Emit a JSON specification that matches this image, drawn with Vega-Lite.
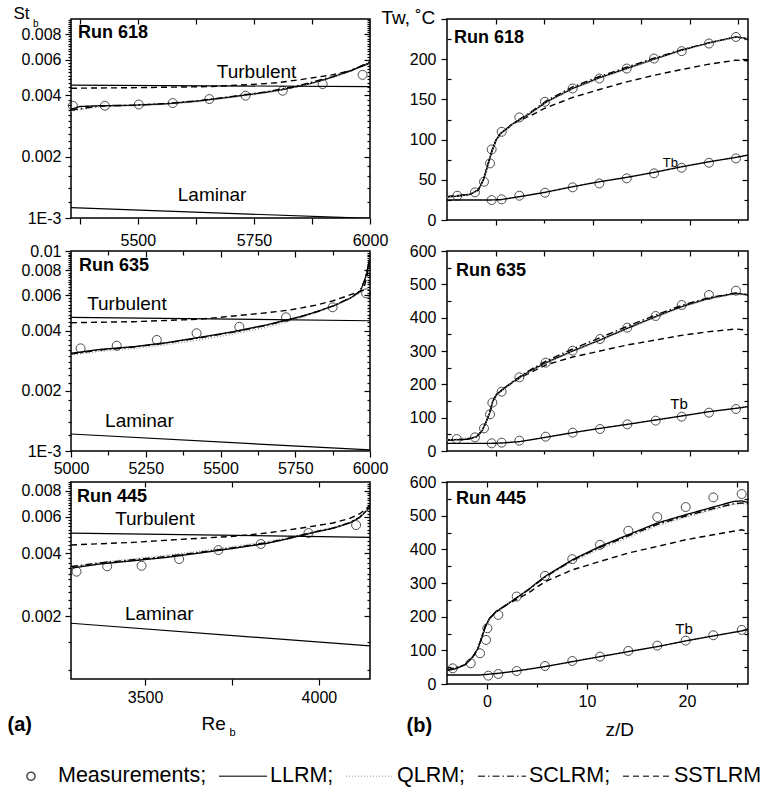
{
"$schema": "https://vega.github.io/schema/vega-lite/v6.json",
"background": "white",
"padding": {"left": 6, "top": 3, "right": 0, "bottom": 0},
"autosize": {"type": "pad"},
"columns": 2,
"spacing": {"row": 31, "column": 77},
"bounds": "flush",
"config": {
 "font": "Liberation Sans",
 "view": {"stroke": "black", "strokeWidth": 1.5},
 "axis": {"domain": false, "grid": false, "labelFont": "Liberation Sans", "labelFontSize": 16, "labelColor": "black", "tickColor": "black", "tickWidth": 1.2, "titleFont": "Liberation Sans", "titleFontSize": 19, "titleFontWeight": "normal", "titleColor": "black", "labelFlush": false, "labelOverlap": false, "labelBound": false, "labelLimit": 0},
 "legend": {"orient": "none", "legendX": -65, "legendY": 732, "direction": "horizontal", "columns": 5, "symbolSize": 2304, "symbolStrokeWidth": 1.5, "symbolStrokeColor": "black", "symbolFillColor": "transparent", "labelFont": "Liberation Sans", "labelFontSize": 21.5, "labelColor": "black", "labelOffset": 2, "columnPadding": 9, "labelLimit": 0, "padding": 0},
 "text": {"font": "Liberation Sans", "color": "black"}
},
"datasets": {
"L1": [
{"kind":"curve","model":"LLRM","Re":5356,"St":0.00342},{"kind":"curve","model":"LLRM","Re":5375,"St":0.00353},{"kind":"curve","model":"LLRM","Re":5418,"St":0.00356},{"kind":"curve","model":"LLRM","Re":5489,"St":0.00358},{"kind":"curve","model":"LLRM","Re":5561,"St":0.00364},{"kind":"curve","model":"LLRM","Re":5632,"St":0.00376},{"kind":"curve","model":"LLRM","Re":5704,"St":0.00394},{"kind":"curve","model":"LLRM","Re":5775,"St":0.00414},{"kind":"curve","model":"LLRM","Re":5818,"St":0.0043},{"kind":"curve","model":"LLRM","Re":5846,"St":0.00444},{"kind":"curve","model":"LLRM","Re":5882,"St":0.00464},{"kind":"curve","model":"LLRM","Re":5918,"St":0.00491},{"kind":"curve","model":"LLRM","Re":5954,"St":0.00524},{"kind":"curve","model":"LLRM","Re":6000,"St":0.00577},
{"kind":"curve","model":"QLRM","Re":5356,"St":0.00335},{"kind":"curve","model":"QLRM","Re":5418,"St":0.00352},{"kind":"curve","model":"QLRM","Re":5489,"St":0.00355},{"kind":"curve","model":"QLRM","Re":5561,"St":0.00361},{"kind":"curve","model":"QLRM","Re":5632,"St":0.00373},{"kind":"curve","model":"QLRM","Re":5704,"St":0.00391},{"kind":"curve","model":"QLRM","Re":5775,"St":0.00411},{"kind":"curve","model":"QLRM","Re":5846,"St":0.00442},{"kind":"curve","model":"QLRM","Re":5918,"St":0.0049},{"kind":"curve","model":"QLRM","Re":5954,"St":0.00522},{"kind":"curve","model":"QLRM","Re":6000,"St":0.00575},
{"kind":"curve","model":"SCLRM","Re":5356,"St":0.00339},{"kind":"curve","model":"SCLRM","Re":5418,"St":0.00355},{"kind":"curve","model":"SCLRM","Re":5489,"St":0.00358},{"kind":"curve","model":"SCLRM","Re":5561,"St":0.00365},{"kind":"curve","model":"SCLRM","Re":5632,"St":0.00377},{"kind":"curve","model":"SCLRM","Re":5704,"St":0.00396},{"kind":"curve","model":"SCLRM","Re":5775,"St":0.00416},{"kind":"curve","model":"SCLRM","Re":5846,"St":0.00447},{"kind":"curve","model":"SCLRM","Re":5918,"St":0.00494},{"kind":"curve","model":"SCLRM","Re":5954,"St":0.00527},{"kind":"curve","model":"SCLRM","Re":6000,"St":0.0058},
{"kind":"curve","model":"SSTLRM","Re":5356,"St":0.00434},{"kind":"curve","model":"SSTLRM","Re":5500,"St":0.00437},{"kind":"curve","model":"SSTLRM","Re":5650,"St":0.00442},{"kind":"curve","model":"SSTLRM","Re":5741,"St":0.00452},{"kind":"curve","model":"SSTLRM","Re":5800,"St":0.00462},{"kind":"curve","model":"SSTLRM","Re":5846,"St":0.00477},{"kind":"curve","model":"SSTLRM","Re":5918,"St":0.00505},{"kind":"curve","model":"SSTLRM","Re":5960,"St":0.0053},{"kind":"curve","model":"SSTLRM","Re":6000,"St":0.00585},
{"kind":"corr","curve":"Turbulent","Re":5356,"St":0.0045},{"kind":"corr","curve":"Turbulent","Re":6000,"St":0.00442},
{"kind":"corr","curve":"Laminar","Re":5356,"St":0.001125},{"kind":"corr","curve":"Laminar","Re":6000,"St":0.000995},
{"kind":"meas","model":"Measurements","Re":5360,"St":0.00356},{"kind":"meas","model":"Measurements","Re":5429,"St":0.00356},{"kind":"meas","model":"Measurements","Re":5502,"St":0.00361},{"kind":"meas","model":"Measurements","Re":5575,"St":0.00367},{"kind":"meas","model":"Measurements","Re":5654,"St":0.00384},{"kind":"meas","model":"Measurements","Re":5732,"St":0.00399},{"kind":"meas","model":"Measurements","Re":5812,"St":0.00422},{"kind":"meas","model":"Measurements","Re":5898,"St":0.00455},{"kind":"meas","model":"Measurements","Re":5984,"St":0.00505},
{"kind":"run","text":"Run 618","Re":5371,"St":0.00811},
{"kind":"label","text":"Turbulent","Re":5670,"St":0.00524},
{"kind":"label","text":"Laminar","Re":5586,"St":0.0013}
],
"R1": [
{"kind":"curve","curve":"Tw","model":"LLRM","z":-5,"T":29},{"kind":"curve","curve":"Tw","model":"LLRM","z":-3.94,"T":29.5},{"kind":"curve","curve":"Tw","model":"LLRM","z":-2.63,"T":31.9},{"kind":"curve","curve":"Tw","model":"LLRM","z":-1.78,"T":37.3},{"kind":"curve","curve":"Tw","model":"LLRM","z":-1.26,"T":49.7},{"kind":"curve","curve":"Tw","model":"LLRM","z":-0.85,"T":66.2},{"kind":"curve","curve":"Tw","model":"LLRM","z":-0.4,"T":84.8},{"kind":"curve","curve":"Tw","model":"LLRM","z":0.05,"T":99.4},{"kind":"curve","curve":"Tw","model":"LLRM","z":0.53,"T":107.7},{"kind":"curve","curve":"Tw","model":"LLRM","z":1.83,"T":120},{"kind":"curve","curve":"Tw","model":"LLRM","z":3.55,"T":132.5},{"kind":"curve","curve":"Tw","model":"LLRM","z":5.27,"T":147},{"kind":"curve","curve":"Tw","model":"LLRM","z":7.94,"T":163.6},{"kind":"curve","curve":"Tw","model":"LLRM","z":10.69,"T":176.8},{"kind":"curve","curve":"Tw","model":"LLRM","z":13.51,"T":188.4},{"kind":"curve","curve":"Tw","model":"LLRM","z":16.32,"T":200},{"kind":"curve","curve":"Tw","model":"LLRM","z":19.17,"T":211.2},{"kind":"curve","curve":"Tw","model":"LLRM","z":21.98,"T":220.3},{"kind":"curve","curve":"Tw","model":"LLRM","z":24.76,"T":227.7},{"kind":"curve","curve":"Tw","model":"LLRM","z":26,"T":225.5},
{"kind":"curve","curve":"Tw","model":"SSTLRM","z":-5,"T":29},{"kind":"curve","curve":"Tw","model":"SSTLRM","z":-2.63,"T":31.9},{"kind":"curve","curve":"Tw","model":"SSTLRM","z":-1.78,"T":37.3},{"kind":"curve","curve":"Tw","model":"SSTLRM","z":-1.26,"T":49.7},{"kind":"curve","curve":"Tw","model":"SSTLRM","z":-0.85,"T":66.2},{"kind":"curve","curve":"Tw","model":"SSTLRM","z":-0.4,"T":84.8},{"kind":"curve","curve":"Tw","model":"SSTLRM","z":0.05,"T":99.4},{"kind":"curve","curve":"Tw","model":"SSTLRM","z":0.53,"T":107.7},{"kind":"curve","curve":"Tw","model":"SSTLRM","z":1.83,"T":119.5},{"kind":"curve","curve":"Tw","model":"SSTLRM","z":2.45,"T":124},{"kind":"curve","curve":"Tw","model":"SSTLRM","z":3.55,"T":129.5},{"kind":"curve","curve":"Tw","model":"SSTLRM","z":5.09,"T":139},{"kind":"curve","curve":"Tw","model":"SSTLRM","z":7.94,"T":152.4},{"kind":"curve","curve":"Tw","model":"SSTLRM","z":10.69,"T":162.3},{"kind":"curve","curve":"Tw","model":"SSTLRM","z":13.51,"T":171.8},{"kind":"curve","curve":"Tw","model":"SSTLRM","z":16.32,"T":180},{"kind":"curve","curve":"Tw","model":"SSTLRM","z":19.17,"T":187.2},{"kind":"curve","curve":"Tw","model":"SSTLRM","z":21.98,"T":193.8},{"kind":"curve","curve":"Tw","model":"SSTLRM","z":24.76,"T":198.8},{"kind":"curve","curve":"Tw","model":"SSTLRM","z":26,"T":198},
{"kind":"curve","curve":"Tw","model":"SCLRM","z":-5,"T":29},{"kind":"curve","curve":"Tw","model":"SCLRM","z":-2.63,"T":31.9},{"kind":"curve","curve":"Tw","model":"SCLRM","z":-1.78,"T":37.3},{"kind":"curve","curve":"Tw","model":"SCLRM","z":-1.26,"T":49.7},{"kind":"curve","curve":"Tw","model":"SCLRM","z":-0.85,"T":66.2},{"kind":"curve","curve":"Tw","model":"SCLRM","z":-0.4,"T":84.8},{"kind":"curve","curve":"Tw","model":"SCLRM","z":0.05,"T":99.4},{"kind":"curve","curve":"Tw","model":"SCLRM","z":0.53,"T":107.7},{"kind":"curve","curve":"Tw","model":"SCLRM","z":1.83,"T":120.5},{"kind":"curve","curve":"Tw","model":"SCLRM","z":3.55,"T":133.5},{"kind":"curve","curve":"Tw","model":"SCLRM","z":5.27,"T":148.5},{"kind":"curve","curve":"Tw","model":"SCLRM","z":7.94,"T":165.5},{"kind":"curve","curve":"Tw","model":"SCLRM","z":10.69,"T":178.5},{"kind":"curve","curve":"Tw","model":"SCLRM","z":13.51,"T":190},{"kind":"curve","curve":"Tw","model":"SCLRM","z":16.32,"T":201.2},{"kind":"curve","curve":"Tw","model":"SCLRM","z":19.17,"T":211.8},{"kind":"curve","curve":"Tw","model":"SCLRM","z":21.98,"T":220.5},{"kind":"curve","curve":"Tw","model":"SCLRM","z":24.76,"T":227.5},{"kind":"curve","curve":"Tw","model":"SCLRM","z":26,"T":225.5},
{"kind":"curve","curve":"Tw","model":"QLRM","z":-5,"T":28.5},{"kind":"curve","curve":"Tw","model":"QLRM","z":-2.63,"T":31.5},{"kind":"curve","curve":"Tw","model":"QLRM","z":-1.78,"T":36.5},{"kind":"curve","curve":"Tw","model":"QLRM","z":-1.26,"T":48.5},{"kind":"curve","curve":"Tw","model":"QLRM","z":-0.85,"T":65},{"kind":"curve","curve":"Tw","model":"QLRM","z":-0.4,"T":83.5},{"kind":"curve","curve":"Tw","model":"QLRM","z":0.05,"T":98.5},{"kind":"curve","curve":"Tw","model":"QLRM","z":0.53,"T":107},{"kind":"curve","curve":"Tw","model":"QLRM","z":1.83,"T":119.5},{"kind":"curve","curve":"Tw","model":"QLRM","z":3.55,"T":132},{"kind":"curve","curve":"Tw","model":"QLRM","z":5.27,"T":146.5},{"kind":"curve","curve":"Tw","model":"QLRM","z":7.94,"T":163},{"kind":"curve","curve":"Tw","model":"QLRM","z":10.69,"T":176},{"kind":"curve","curve":"Tw","model":"QLRM","z":13.51,"T":187.5},{"kind":"curve","curve":"Tw","model":"QLRM","z":16.32,"T":199.5},{"kind":"curve","curve":"Tw","model":"QLRM","z":19.17,"T":210.5},{"kind":"curve","curve":"Tw","model":"QLRM","z":21.98,"T":219.8},{"kind":"curve","curve":"Tw","model":"QLRM","z":24.76,"T":227.2},{"kind":"curve","curve":"Tw","model":"QLRM","z":26,"T":225.2},
{"kind":"curve","curve":"Tb","model":"LLRM","z":-5,"T":24.8},{"kind":"curve","curve":"Tb","model":"LLRM","z":-1,"T":24.8},{"kind":"curve","curve":"Tb","model":"LLRM","z":0.5,"T":25.2},{"kind":"curve","curve":"Tb","model":"LLRM","z":2.45,"T":29},{"kind":"curve","curve":"Tb","model":"LLRM","z":5.09,"T":34.4},{"kind":"curve","curve":"Tb","model":"LLRM","z":7.94,"T":41.4},{"kind":"curve","curve":"Tb","model":"LLRM","z":10.69,"T":47.6},{"kind":"curve","curve":"Tb","model":"LLRM","z":13.51,"T":53},{"kind":"curve","curve":"Tb","model":"LLRM","z":16.32,"T":59.2},{"kind":"curve","curve":"Tb","model":"LLRM","z":19.17,"T":66.2},{"kind":"curve","curve":"Tb","model":"LLRM","z":21.98,"T":72.4},{"kind":"curve","curve":"Tb","model":"LLRM","z":24.76,"T":77.9},{"kind":"curve","curve":"Tb","model":"LLRM","z":26,"T":80.7},
{"kind":"meas","model":"Measurements","z":-3.94,"T":30.2},{"kind":"meas","model":"Measurements","z":-2.12,"T":34.4},{"kind":"meas","model":"Measurements","z":-1.19,"T":47.6},{"kind":"meas","model":"Measurements","z":-0.57,"T":70.4},{"kind":"meas","model":"Measurements","z":-0.4,"T":87.8},{"kind":"meas","model":"Measurements","z":0.63,"T":109.7},{"kind":"meas","model":"Measurements","z":2.45,"T":127.6},{"kind":"meas","model":"Measurements","z":5.09,"T":147},{"kind":"meas","model":"Measurements","z":7.94,"T":163.6},{"kind":"meas","model":"Measurements","z":10.69,"T":176},{"kind":"meas","model":"Measurements","z":13.51,"T":188.4},{"kind":"meas","model":"Measurements","z":16.32,"T":200.8},{"kind":"meas","model":"Measurements","z":19.17,"T":210},{"kind":"meas","model":"Measurements","z":21.98,"T":219.5},{"kind":"meas","model":"Measurements","z":24.76,"T":227.7},
{"kind":"meas","model":"Measurements","z":-0.4,"T":24.8},{"kind":"meas","model":"Measurements","z":0.63,"T":25.7},{"kind":"meas","model":"Measurements","z":2.45,"T":30.2},{"kind":"meas","model":"Measurements","z":5.09,"T":33.9},{"kind":"meas","model":"Measurements","z":7.94,"T":40.6},{"kind":"meas","model":"Measurements","z":10.69,"T":45.5},{"kind":"meas","model":"Measurements","z":13.51,"T":51.8},{"kind":"meas","model":"Measurements","z":16.32,"T":58},{"kind":"meas","model":"Measurements","z":19.17,"T":65},{"kind":"meas","model":"Measurements","z":21.98,"T":71.2},{"kind":"meas","model":"Measurements","z":24.76,"T":76.6},
{"kind":"run","text":"Run 618","z":-4.28,"T":226},
{"kind":"label","text":"Tb","z":18.0,"T":70.5}
],
"L2": [
{"kind":"curve","model":"LLRM","Re":5000,"St":0.00308},{"kind":"curve","model":"LLRM","Re":5097,"St":0.00322},{"kind":"curve","model":"LLRM","Re":5208,"St":0.00332},{"kind":"curve","model":"LLRM","Re":5320,"St":0.00348},{"kind":"curve","model":"LLRM","Re":5431,"St":0.0037},{"kind":"curve","model":"LLRM","Re":5543,"St":0.00395},{"kind":"curve","model":"LLRM","Re":5654,"St":0.00427},{"kind":"curve","model":"LLRM","Re":5721,"St":0.00452},{"kind":"curve","model":"LLRM","Re":5766,"St":0.00469},{"kind":"curve","model":"LLRM","Re":5822,"St":0.00497},{"kind":"curve","model":"LLRM","Re":5877,"St":0.00531},{"kind":"curve","model":"LLRM","Re":5933,"St":0.0058},{"kind":"curve","model":"LLRM","Re":5967,"St":0.00626},{"kind":"curve","model":"LLRM","Re":5983,"St":0.00716},{"kind":"curve","model":"LLRM","Re":5994,"St":0.00835},{"kind":"curve","model":"LLRM","Re":6000,"St":0.00937},
{"kind":"curve","model":"QLRM","Re":5000,"St":0.00302},{"kind":"curve","model":"QLRM","Re":5097,"St":0.00315},{"kind":"curve","model":"QLRM","Re":5208,"St":0.00325},{"kind":"curve","model":"QLRM","Re":5320,"St":0.0034},{"kind":"curve","model":"QLRM","Re":5431,"St":0.0036},{"kind":"curve","model":"QLRM","Re":5543,"St":0.00384},{"kind":"curve","model":"QLRM","Re":5654,"St":0.00416},{"kind":"curve","model":"QLRM","Re":5721,"St":0.00443},{"kind":"curve","model":"QLRM","Re":5766,"St":0.00463},{"kind":"curve","model":"QLRM","Re":5822,"St":0.00493},{"kind":"curve","model":"QLRM","Re":5877,"St":0.00528},{"kind":"curve","model":"QLRM","Re":5933,"St":0.00578},{"kind":"curve","model":"QLRM","Re":5967,"St":0.00624},{"kind":"curve","model":"QLRM","Re":5983,"St":0.00714},{"kind":"curve","model":"QLRM","Re":5994,"St":0.00833},{"kind":"curve","model":"QLRM","Re":6000,"St":0.00935},
{"kind":"curve","model":"SCLRM","Re":5000,"St":0.00305},{"kind":"curve","model":"SCLRM","Re":5097,"St":0.0032},{"kind":"curve","model":"SCLRM","Re":5208,"St":0.00331},{"kind":"curve","model":"SCLRM","Re":5320,"St":0.00347},{"kind":"curve","model":"SCLRM","Re":5431,"St":0.00368},{"kind":"curve","model":"SCLRM","Re":5543,"St":0.00393},{"kind":"curve","model":"SCLRM","Re":5654,"St":0.00425},{"kind":"curve","model":"SCLRM","Re":5721,"St":0.0045},{"kind":"curve","model":"SCLRM","Re":5766,"St":0.00468},{"kind":"curve","model":"SCLRM","Re":5822,"St":0.00497},{"kind":"curve","model":"SCLRM","Re":5877,"St":0.00532},{"kind":"curve","model":"SCLRM","Re":5933,"St":0.00582},{"kind":"curve","model":"SCLRM","Re":5967,"St":0.0063},{"kind":"curve","model":"SCLRM","Re":5983,"St":0.0072},{"kind":"curve","model":"SCLRM","Re":5994,"St":0.0084},{"kind":"curve","model":"SCLRM","Re":6000,"St":0.0094},
{"kind":"curve","model":"SSTLRM","Re":5000,"St":0.00438},{"kind":"curve","model":"SSTLRM","Re":5208,"St":0.00443},{"kind":"curve","model":"SSTLRM","Re":5431,"St":0.00456},{"kind":"curve","model":"SSTLRM","Re":5543,"St":0.00473},{"kind":"curve","model":"SSTLRM","Re":5654,"St":0.00491},{"kind":"curve","model":"SSTLRM","Re":5732,"St":0.00507},{"kind":"curve","model":"SSTLRM","Re":5822,"St":0.00537},{"kind":"curve","model":"SSTLRM","Re":5877,"St":0.00564},{"kind":"curve","model":"SSTLRM","Re":5933,"St":0.00603},{"kind":"curve","model":"SSTLRM","Re":5978,"St":0.00638},{"kind":"curve","model":"SSTLRM","Re":5990,"St":0.0075},{"kind":"curve","model":"SSTLRM","Re":6000,"St":0.0094},
{"kind":"corr","curve":"Turbulent","Re":5000,"St":0.00466},{"kind":"corr","curve":"Turbulent","Re":6000,"St":0.00448},
{"kind":"corr","curve":"Laminar","Re":5000,"St":0.001216},{"kind":"corr","curve":"Laminar","Re":6000,"St":0.001012},
{"kind":"meas","model":"Measurements","Re":5032,"St":0.00326},{"kind":"meas","model":"Measurements","Re":5153,"St":0.00336},{"kind":"meas","model":"Measurements","Re":5287,"St":0.00359},{"kind":"meas","model":"Measurements","Re":5420,"St":0.00388},{"kind":"meas","model":"Measurements","Re":5563,"St":0.00418},{"kind":"meas","model":"Measurements","Re":5719,"St":0.00466},{"kind":"meas","model":"Measurements","Re":5875,"St":0.00523},{"kind":"meas","model":"Measurements","Re":5987,"St":0.00614},
{"kind":"run","text":"Run 635","Re":5027,"St":0.00844},
{"kind":"label","text":"Turbulent","Re":5054,"St":0.00546},
{"kind":"label","text":"Laminar","Re":5114,"St":0.00142}
],
"R2": [
{"kind":"curve","curve":"Tw","model":"LLRM","z":-5,"T":33},{"kind":"curve","curve":"Tw","model":"LLRM","z":-2.97,"T":35},{"kind":"curve","curve":"Tw","model":"LLRM","z":-1.94,"T":43},{"kind":"curve","curve":"Tw","model":"LLRM","z":-1.4,"T":60},{"kind":"curve","curve":"Tw","model":"LLRM","z":-1.0,"T":85},{"kind":"curve","curve":"Tw","model":"LLRM","z":-0.6,"T":115},{"kind":"curve","curve":"Tw","model":"LLRM","z":-0.3,"T":148},{"kind":"curve","curve":"Tw","model":"LLRM","z":0.1,"T":170},{"kind":"curve","curve":"Tw","model":"LLRM","z":0.63,"T":182},{"kind":"curve","curve":"Tw","model":"LLRM","z":1.83,"T":208},{"kind":"curve","curve":"Tw","model":"LLRM","z":2.45,"T":220},{"kind":"curve","curve":"Tw","model":"LLRM","z":3.55,"T":240},{"kind":"curve","curve":"Tw","model":"LLRM","z":5.27,"T":266},{"kind":"curve","curve":"Tw","model":"LLRM","z":7.94,"T":300},{"kind":"curve","curve":"Tw","model":"LLRM","z":10.76,"T":333},{"kind":"curve","curve":"Tw","model":"LLRM","z":13.57,"T":368},{"kind":"curve","curve":"Tw","model":"LLRM","z":16.49,"T":403},{"kind":"curve","curve":"Tw","model":"LLRM","z":19.17,"T":433},{"kind":"curve","curve":"Tw","model":"LLRM","z":21.98,"T":458},{"kind":"curve","curve":"Tw","model":"LLRM","z":24.76,"T":473},{"kind":"curve","curve":"Tw","model":"LLRM","z":26,"T":468},
{"kind":"curve","curve":"Tw","model":"SSTLRM","z":-5,"T":33},{"kind":"curve","curve":"Tw","model":"SSTLRM","z":-2.97,"T":35},{"kind":"curve","curve":"Tw","model":"SSTLRM","z":-1.94,"T":43},{"kind":"curve","curve":"Tw","model":"SSTLRM","z":-1.4,"T":60},{"kind":"curve","curve":"Tw","model":"SSTLRM","z":-1.0,"T":85},{"kind":"curve","curve":"Tw","model":"SSTLRM","z":-0.6,"T":115},{"kind":"curve","curve":"Tw","model":"SSTLRM","z":-0.3,"T":148},{"kind":"curve","curve":"Tw","model":"SSTLRM","z":0.1,"T":170},{"kind":"curve","curve":"Tw","model":"SSTLRM","z":0.63,"T":182},{"kind":"curve","curve":"Tw","model":"SSTLRM","z":1.83,"T":207},{"kind":"curve","curve":"Tw","model":"SSTLRM","z":2.45,"T":218},{"kind":"curve","curve":"Tw","model":"SSTLRM","z":3.55,"T":235},{"kind":"curve","curve":"Tw","model":"SSTLRM","z":5.27,"T":259},{"kind":"curve","curve":"Tw","model":"SSTLRM","z":7.94,"T":282},{"kind":"curve","curve":"Tw","model":"SSTLRM","z":10.76,"T":300},{"kind":"curve","curve":"Tw","model":"SSTLRM","z":13.57,"T":318},{"kind":"curve","curve":"Tw","model":"SSTLRM","z":16.49,"T":333},{"kind":"curve","curve":"Tw","model":"SSTLRM","z":19.17,"T":347},{"kind":"curve","curve":"Tw","model":"SSTLRM","z":21.98,"T":358},{"kind":"curve","curve":"Tw","model":"SSTLRM","z":24.76,"T":366},{"kind":"curve","curve":"Tw","model":"SSTLRM","z":26,"T":362},
{"kind":"curve","curve":"Tw","model":"SCLRM","z":-5,"T":33},{"kind":"curve","curve":"Tw","model":"SCLRM","z":-2.97,"T":35},{"kind":"curve","curve":"Tw","model":"SCLRM","z":-1.94,"T":43},{"kind":"curve","curve":"Tw","model":"SCLRM","z":-1.4,"T":60},{"kind":"curve","curve":"Tw","model":"SCLRM","z":-1.0,"T":85},{"kind":"curve","curve":"Tw","model":"SCLRM","z":-0.6,"T":115},{"kind":"curve","curve":"Tw","model":"SCLRM","z":-0.3,"T":148},{"kind":"curve","curve":"Tw","model":"SCLRM","z":0.1,"T":170},{"kind":"curve","curve":"Tw","model":"SCLRM","z":0.63,"T":183},{"kind":"curve","curve":"Tw","model":"SCLRM","z":1.83,"T":210},{"kind":"curve","curve":"Tw","model":"SCLRM","z":2.45,"T":222},{"kind":"curve","curve":"Tw","model":"SCLRM","z":3.55,"T":243},{"kind":"curve","curve":"Tw","model":"SCLRM","z":5.27,"T":271},{"kind":"curve","curve":"Tw","model":"SCLRM","z":7.94,"T":306},{"kind":"curve","curve":"Tw","model":"SCLRM","z":10.76,"T":340},{"kind":"curve","curve":"Tw","model":"SCLRM","z":13.57,"T":374},{"kind":"curve","curve":"Tw","model":"SCLRM","z":16.49,"T":408},{"kind":"curve","curve":"Tw","model":"SCLRM","z":19.17,"T":437},{"kind":"curve","curve":"Tw","model":"SCLRM","z":21.98,"T":460},{"kind":"curve","curve":"Tw","model":"SCLRM","z":24.76,"T":474},{"kind":"curve","curve":"Tw","model":"SCLRM","z":26,"T":469},
{"kind":"curve","curve":"Tw","model":"QLRM","z":-5,"T":33},{"kind":"curve","curve":"Tw","model":"QLRM","z":-1.94,"T":43},{"kind":"curve","curve":"Tw","model":"QLRM","z":-1.4,"T":60},{"kind":"curve","curve":"Tw","model":"QLRM","z":-1.0,"T":85},{"kind":"curve","curve":"Tw","model":"QLRM","z":-0.6,"T":115},{"kind":"curve","curve":"Tw","model":"QLRM","z":-0.3,"T":148},{"kind":"curve","curve":"Tw","model":"QLRM","z":0.1,"T":169},{"kind":"curve","curve":"Tw","model":"QLRM","z":0.63,"T":180},{"kind":"curve","curve":"Tw","model":"QLRM","z":1.83,"T":206},{"kind":"curve","curve":"Tw","model":"QLRM","z":2.45,"T":218},{"kind":"curve","curve":"Tw","model":"QLRM","z":3.55,"T":238},{"kind":"curve","curve":"Tw","model":"QLRM","z":5.27,"T":264},{"kind":"curve","curve":"Tw","model":"QLRM","z":7.94,"T":298},{"kind":"curve","curve":"Tw","model":"QLRM","z":10.76,"T":331},{"kind":"curve","curve":"Tw","model":"QLRM","z":13.57,"T":366},{"kind":"curve","curve":"Tw","model":"QLRM","z":16.49,"T":401},{"kind":"curve","curve":"Tw","model":"QLRM","z":19.17,"T":431},{"kind":"curve","curve":"Tw","model":"QLRM","z":21.98,"T":456},{"kind":"curve","curve":"Tw","model":"QLRM","z":24.76,"T":471},{"kind":"curve","curve":"Tw","model":"QLRM","z":26,"T":466},
{"kind":"curve","curve":"Tb","model":"LLRM","z":-5,"T":23},{"kind":"curve","curve":"Tb","model":"LLRM","z":-0.4,"T":23},{"kind":"curve","curve":"Tb","model":"LLRM","z":0.63,"T":24},{"kind":"curve","curve":"Tb","model":"LLRM","z":2.45,"T":28},{"kind":"curve","curve":"Tb","model":"LLRM","z":5.16,"T":41},{"kind":"curve","curve":"Tb","model":"LLRM","z":7.94,"T":55},{"kind":"curve","curve":"Tb","model":"LLRM","z":10.76,"T":68},{"kind":"curve","curve":"Tb","model":"LLRM","z":13.57,"T":80},{"kind":"curve","curve":"Tb","model":"LLRM","z":16.49,"T":93},{"kind":"curve","curve":"Tb","model":"LLRM","z":19.17,"T":105},{"kind":"curve","curve":"Tb","model":"LLRM","z":21.98,"T":118},{"kind":"curve","curve":"Tb","model":"LLRM","z":24.76,"T":128},{"kind":"curve","curve":"Tb","model":"LLRM","z":26,"T":133},
{"kind":"meas","model":"Measurements","z":-4.0,"T":36},{"kind":"meas","model":"Measurements","z":-2.12,"T":41},{"kind":"meas","model":"Measurements","z":-1.19,"T":68},{"kind":"meas","model":"Measurements","z":-0.57,"T":110},{"kind":"meas","model":"Measurements","z":-0.33,"T":145},{"kind":"meas","model":"Measurements","z":0.63,"T":178},{"kind":"meas","model":"Measurements","z":2.45,"T":221},{"kind":"meas","model":"Measurements","z":5.16,"T":265},{"kind":"meas","model":"Measurements","z":7.94,"T":301},{"kind":"meas","model":"Measurements","z":10.76,"T":336},{"kind":"meas","model":"Measurements","z":13.57,"T":370},{"kind":"meas","model":"Measurements","z":16.49,"T":405},{"kind":"meas","model":"Measurements","z":19.17,"T":438},{"kind":"meas","model":"Measurements","z":21.98,"T":468},{"kind":"meas","model":"Measurements","z":24.76,"T":481},
{"kind":"meas","model":"Measurements","z":-0.4,"T":23},{"kind":"meas","model":"Measurements","z":0.63,"T":25},{"kind":"meas","model":"Measurements","z":2.45,"T":31},{"kind":"meas","model":"Measurements","z":5.16,"T":43},{"kind":"meas","model":"Measurements","z":7.94,"T":55},{"kind":"meas","model":"Measurements","z":10.76,"T":66},{"kind":"meas","model":"Measurements","z":13.57,"T":80},{"kind":"meas","model":"Measurements","z":16.49,"T":91},{"kind":"meas","model":"Measurements","z":19.17,"T":103},{"kind":"meas","model":"Measurements","z":21.98,"T":115},{"kind":"meas","model":"Measurements","z":24.76,"T":126},
{"kind":"run","text":"Run 635","z":-4.07,"T":540},
{"kind":"label","text":"Tb","z":18.9,"T":141}
],
"L3": [
{"kind":"curve","model":"LLRM","Re":3287,"St":0.0034},{"kind":"curve","model":"LLRM","Re":3370,"St":0.00356},{"kind":"curve","model":"LLRM","Re":3466,"St":0.00369},{"kind":"curve","model":"LLRM","Re":3562,"St":0.00383},{"kind":"curve","model":"LLRM","Re":3658,"St":0.00402},{"kind":"curve","model":"LLRM","Re":3754,"St":0.00423},{"kind":"curve","model":"LLRM","Re":3850,"St":0.00447},{"kind":"curve","model":"LLRM","Re":3898,"St":0.00465},{"kind":"curve","model":"LLRM","Re":3946,"St":0.00486},{"kind":"curve","model":"LLRM","Re":3994,"St":0.00508},{"kind":"curve","model":"LLRM","Re":4041,"St":0.00528},{"kind":"curve","model":"LLRM","Re":4089,"St":0.0056},{"kind":"curve","model":"LLRM","Re":4118,"St":0.00596},{"kind":"curve","model":"LLRM","Re":4147,"St":0.00666},
{"kind":"curve","model":"QLRM","Re":3287,"St":0.00344},{"kind":"curve","model":"QLRM","Re":3370,"St":0.00362},{"kind":"curve","model":"QLRM","Re":3466,"St":0.00377},{"kind":"curve","model":"QLRM","Re":3562,"St":0.00392},{"kind":"curve","model":"QLRM","Re":3658,"St":0.00411},{"kind":"curve","model":"QLRM","Re":3754,"St":0.00432},{"kind":"curve","model":"QLRM","Re":3850,"St":0.00455},{"kind":"curve","model":"QLRM","Re":3898,"St":0.00472},{"kind":"curve","model":"QLRM","Re":3946,"St":0.00492},{"kind":"curve","model":"QLRM","Re":3994,"St":0.00513},{"kind":"curve","model":"QLRM","Re":4041,"St":0.00533},{"kind":"curve","model":"QLRM","Re":4089,"St":0.00563},{"kind":"curve","model":"QLRM","Re":4118,"St":0.00598},{"kind":"curve","model":"QLRM","Re":4147,"St":0.00668},
{"kind":"curve","model":"SCLRM","Re":3287,"St":0.00346},{"kind":"curve","model":"SCLRM","Re":3370,"St":0.0036},{"kind":"curve","model":"SCLRM","Re":3466,"St":0.00373},{"kind":"curve","model":"SCLRM","Re":3562,"St":0.00387},{"kind":"curve","model":"SCLRM","Re":3658,"St":0.00405},{"kind":"curve","model":"SCLRM","Re":3754,"St":0.00426},{"kind":"curve","model":"SCLRM","Re":3850,"St":0.0045},{"kind":"curve","model":"SCLRM","Re":3898,"St":0.00467},{"kind":"curve","model":"SCLRM","Re":3946,"St":0.00488},{"kind":"curve","model":"SCLRM","Re":3994,"St":0.0051},{"kind":"curve","model":"SCLRM","Re":4041,"St":0.0053},{"kind":"curve","model":"SCLRM","Re":4089,"St":0.00562},{"kind":"curve","model":"SCLRM","Re":4118,"St":0.00598},{"kind":"curve","model":"SCLRM","Re":4147,"St":0.00668},
{"kind":"curve","model":"SSTLRM","Re":3287,"St":0.00439},{"kind":"curve","model":"SSTLRM","Re":3466,"St":0.00452},{"kind":"curve","model":"SSTLRM","Re":3658,"St":0.00473},{"kind":"curve","model":"SSTLRM","Re":3754,"St":0.00483},{"kind":"curve","model":"SSTLRM","Re":3850,"St":0.00501},{"kind":"curve","model":"SSTLRM","Re":3946,"St":0.00528},{"kind":"curve","model":"SSTLRM","Re":4041,"St":0.0056},{"kind":"curve","model":"SSTLRM","Re":4089,"St":0.00589},{"kind":"curve","model":"SSTLRM","Re":4118,"St":0.0062},{"kind":"curve","model":"SSTLRM","Re":4147,"St":0.0068},
{"kind":"corr","curve":"Turbulent","Re":3287,"St":0.00501},{"kind":"corr","curve":"Turbulent","Re":4147,"St":0.00478},
{"kind":"corr","curve":"Laminar","Re":3287,"St":0.00185},{"kind":"corr","curve":"Laminar","Re":4147,"St":0.00144},
{"kind":"meas","model":"Measurements","Re":3303,"St":0.00327},{"kind":"meas","model":"Measurements","Re":3391,"St":0.00347},{"kind":"meas","model":"Measurements","Re":3490,"St":0.00349},{"kind":"meas","model":"Measurements","Re":3598,"St":0.00376},{"kind":"meas","model":"Measurements","Re":3711,"St":0.00415},{"kind":"meas","model":"Measurements","Re":3833,"St":0.00444},{"kind":"meas","model":"Measurements","Re":3970,"St":0.00501},{"kind":"meas","model":"Measurements","Re":4107,"St":0.00547},
{"kind":"run","text":"Run 445","Re":3304,"St":0.00743},
{"kind":"label","text":"Turbulent","Re":3414,"St":0.00582},
{"kind":"label","text":"Laminar","Re":3442,"St":0.00206}
],
"R3": [
{"kind":"curve","curve":"Tw","model":"LLRM","z":-4,"T":41.7},{"kind":"curve","curve":"Tw","model":"LLRM","z":-3.23,"T":44.6},{"kind":"curve","curve":"Tw","model":"LLRM","z":-2.23,"T":56.5},{"kind":"curve","curve":"Tw","model":"LLRM","z":-1.4,"T":81.3},{"kind":"curve","curve":"Tw","model":"LLRM","z":-0.9,"T":106},{"kind":"curve","curve":"Tw","model":"LLRM","z":-0.5,"T":140.8},{"kind":"curve","curve":"Tw","model":"LLRM","z":-0.17,"T":170.6},{"kind":"curve","curve":"Tw","model":"LLRM","z":0.27,"T":195.4},{"kind":"curve","curve":"Tw","model":"LLRM","z":0.93,"T":215.2},{"kind":"curve","curve":"Tw","model":"LLRM","z":2.43,"T":245},{"kind":"curve","curve":"Tw","model":"LLRM","z":4.1,"T":279.7},{"kind":"curve","curve":"Tw","model":"LLRM","z":5.8,"T":319.3},{"kind":"curve","curve":"Tw","model":"LLRM","z":8.53,"T":368.9},{"kind":"curve","curve":"Tw","model":"LLRM","z":11.3,"T":408.6},{"kind":"curve","curve":"Tw","model":"LLRM","z":14.13,"T":443.3},{"kind":"curve","curve":"Tw","model":"LLRM","z":17.03,"T":478},{"kind":"curve","curve":"Tw","model":"LLRM","z":19.87,"T":502.8},{"kind":"curve","curve":"Tw","model":"LLRM","z":22.63,"T":525.6},{"kind":"curve","curve":"Tw","model":"LLRM","z":24.63,"T":542},{"kind":"curve","curve":"Tw","model":"LLRM","z":25.47,"T":544},{"kind":"curve","curve":"Tw","model":"LLRM","z":26.1,"T":539},
{"kind":"curve","curve":"Tw","model":"SSTLRM","z":-4,"T":41.7},{"kind":"curve","curve":"Tw","model":"SSTLRM","z":-3.23,"T":44.6},{"kind":"curve","curve":"Tw","model":"SSTLRM","z":-2.23,"T":56.5},{"kind":"curve","curve":"Tw","model":"SSTLRM","z":-1.4,"T":81.3},{"kind":"curve","curve":"Tw","model":"SSTLRM","z":-0.9,"T":106},{"kind":"curve","curve":"Tw","model":"SSTLRM","z":-0.5,"T":140.8},{"kind":"curve","curve":"Tw","model":"SSTLRM","z":-0.17,"T":170.6},{"kind":"curve","curve":"Tw","model":"SSTLRM","z":0.27,"T":195.4},{"kind":"curve","curve":"Tw","model":"SSTLRM","z":0.93,"T":215.2},{"kind":"curve","curve":"Tw","model":"SSTLRM","z":2.43,"T":243},{"kind":"curve","curve":"Tw","model":"SSTLRM","z":4.1,"T":269.7},{"kind":"curve","curve":"Tw","model":"SSTLRM","z":5.8,"T":304},{"kind":"curve","curve":"Tw","model":"SSTLRM","z":8.53,"T":339},{"kind":"curve","curve":"Tw","model":"SSTLRM","z":11.3,"T":364},{"kind":"curve","curve":"Tw","model":"SSTLRM","z":14.13,"T":389},{"kind":"curve","curve":"Tw","model":"SSTLRM","z":17.03,"T":408.6},{"kind":"curve","curve":"Tw","model":"SSTLRM","z":19.87,"T":428.4},{"kind":"curve","curve":"Tw","model":"SSTLRM","z":22.63,"T":443.3},{"kind":"curve","curve":"Tw","model":"SSTLRM","z":25.47,"T":458},{"kind":"curve","curve":"Tw","model":"SSTLRM","z":26.1,"T":453},
{"kind":"curve","curve":"Tw","model":"QLRM","z":-4,"T":41.7},{"kind":"curve","curve":"Tw","model":"QLRM","z":-2.23,"T":56.5},{"kind":"curve","curve":"Tw","model":"QLRM","z":-1.4,"T":81.3},{"kind":"curve","curve":"Tw","model":"QLRM","z":-0.9,"T":106},{"kind":"curve","curve":"Tw","model":"QLRM","z":-0.5,"T":140.8},{"kind":"curve","curve":"Tw","model":"QLRM","z":-0.17,"T":170.6},{"kind":"curve","curve":"Tw","model":"QLRM","z":0.27,"T":195.4},{"kind":"curve","curve":"Tw","model":"QLRM","z":0.93,"T":215.2},{"kind":"curve","curve":"Tw","model":"QLRM","z":2.43,"T":245},{"kind":"curve","curve":"Tw","model":"QLRM","z":4.1,"T":278},{"kind":"curve","curve":"Tw","model":"QLRM","z":5.8,"T":316},{"kind":"curve","curve":"Tw","model":"QLRM","z":8.53,"T":364},{"kind":"curve","curve":"Tw","model":"QLRM","z":11.3,"T":401},{"kind":"curve","curve":"Tw","model":"QLRM","z":14.13,"T":435},{"kind":"curve","curve":"Tw","model":"QLRM","z":17.03,"T":470},{"kind":"curve","curve":"Tw","model":"QLRM","z":19.87,"T":495},{"kind":"curve","curve":"Tw","model":"QLRM","z":22.63,"T":518},{"kind":"curve","curve":"Tw","model":"QLRM","z":24.63,"T":533},{"kind":"curve","curve":"Tw","model":"QLRM","z":25.47,"T":536},{"kind":"curve","curve":"Tw","model":"QLRM","z":26.1,"T":533},
{"kind":"curve","curve":"Tw","model":"SCLRM","z":-4,"T":41.7},{"kind":"curve","curve":"Tw","model":"SCLRM","z":-2.23,"T":56.5},{"kind":"curve","curve":"Tw","model":"SCLRM","z":-1.4,"T":81.3},{"kind":"curve","curve":"Tw","model":"SCLRM","z":-0.9,"T":106},{"kind":"curve","curve":"Tw","model":"SCLRM","z":-0.5,"T":140.8},{"kind":"curve","curve":"Tw","model":"SCLRM","z":-0.17,"T":170.6},{"kind":"curve","curve":"Tw","model":"SCLRM","z":0.27,"T":195.4},{"kind":"curve","curve":"Tw","model":"SCLRM","z":0.93,"T":215.2},{"kind":"curve","curve":"Tw","model":"SCLRM","z":2.43,"T":245},{"kind":"curve","curve":"Tw","model":"SCLRM","z":4.1,"T":279},{"kind":"curve","curve":"Tw","model":"SCLRM","z":5.8,"T":318},{"kind":"curve","curve":"Tw","model":"SCLRM","z":8.53,"T":367},{"kind":"curve","curve":"Tw","model":"SCLRM","z":11.3,"T":406},{"kind":"curve","curve":"Tw","model":"SCLRM","z":14.13,"T":440},{"kind":"curve","curve":"Tw","model":"SCLRM","z":17.03,"T":474},{"kind":"curve","curve":"Tw","model":"SCLRM","z":19.87,"T":499},{"kind":"curve","curve":"Tw","model":"SCLRM","z":22.63,"T":521},{"kind":"curve","curve":"Tw","model":"SCLRM","z":24.63,"T":535},{"kind":"curve","curve":"Tw","model":"SCLRM","z":25.47,"T":538},{"kind":"curve","curve":"Tw","model":"SCLRM","z":26.1,"T":536},
{"kind":"curve","curve":"Tb","model":"LLRM","z":-4,"T":26.8},{"kind":"curve","curve":"Tb","model":"LLRM","z":-0.7,"T":26.8},{"kind":"curve","curve":"Tb","model":"LLRM","z":1.13,"T":31.7},{"kind":"curve","curve":"Tb","model":"LLRM","z":2.97,"T":38.7},{"kind":"curve","curve":"Tb","model":"LLRM","z":5.8,"T":51.6},{"kind":"curve","curve":"Tb","model":"LLRM","z":8.53,"T":66.4},{"kind":"curve","curve":"Tb","model":"LLRM","z":11.3,"T":81.3},{"kind":"curve","curve":"Tb","model":"LLRM","z":14.13,"T":96.2},{"kind":"curve","curve":"Tb","model":"LLRM","z":17.03,"T":111},{"kind":"curve","curve":"Tb","model":"LLRM","z":19.87,"T":128},{"kind":"curve","curve":"Tb","model":"LLRM","z":22.63,"T":142.8},{"kind":"curve","curve":"Tb","model":"LLRM","z":25.47,"T":157.7},{"kind":"curve","curve":"Tb","model":"LLRM","z":26.1,"T":162.6},
{"kind":"meas","model":"Measurements","z":-3.43,"T":46.6},{"kind":"meas","model":"Measurements","z":-1.63,"T":61.5},{"kind":"meas","model":"Measurements","z":-0.7,"T":91.2},{"kind":"meas","model":"Measurements","z":-0.1,"T":130.9},{"kind":"meas","model":"Measurements","z":0.03,"T":165.6},{"kind":"meas","model":"Measurements","z":1.13,"T":205.3},{"kind":"meas","model":"Measurements","z":2.97,"T":259.8},{"kind":"meas","model":"Measurements","z":5.8,"T":321.3},{"kind":"meas","model":"Measurements","z":8.53,"T":370.9},{"kind":"meas","model":"Measurements","z":11.3,"T":413.5},{"kind":"meas","model":"Measurements","z":14.13,"T":455.2},{"kind":"meas","model":"Measurements","z":17.03,"T":495.8},{"kind":"meas","model":"Measurements","z":19.87,"T":525.6},{"kind":"meas","model":"Measurements","z":22.63,"T":554.3},{"kind":"meas","model":"Measurements","z":25.47,"T":564.3},
{"kind":"meas","model":"Measurements","z":0.13,"T":24.8},{"kind":"meas","model":"Measurements","z":1.13,"T":29.8},{"kind":"meas","model":"Measurements","z":2.97,"T":38.7},{"kind":"meas","model":"Measurements","z":5.8,"T":53.6},{"kind":"meas","model":"Measurements","z":8.53,"T":68.4},{"kind":"meas","model":"Measurements","z":11.3,"T":81.3},{"kind":"meas","model":"Measurements","z":14.13,"T":98.2},{"kind":"meas","model":"Measurements","z":17.03,"T":114},{"kind":"meas","model":"Measurements","z":19.87,"T":128.9},{"kind":"meas","model":"Measurements","z":22.63,"T":144.8},{"kind":"meas","model":"Measurements","z":25.47,"T":160.7},
{"kind":"run","text":"Run 445","z":-3.1,"T":549},
{"kind":"label","text":"Tb","z":19.7,"T":163}
]
},
"concat": [
{
 "width": 299, "height": 199,
 "data": {"name": "L1"},
 "layer": [
  {"transform":[{"filter":"datum.kind == 'curve'"}],
   "mark":{"type":"line","strokeWidth":1.4,"clip":true},
   "encoding":{
    "x":{"field":"Re","type":"quantitative","scale":{"domain":[5356,6000],"nice":false,"zero":false},"axis":{"orient":"bottom","values":[5375,5500,5625,5750,5875,6000],"labelExpr":"datum.value % 250 == 0 ? format(datum.value,'d') : ''","tickSize":6,"labelPadding":8,"title":null}},
    "y":{"field":"St","type":"quantitative","scale":{"type":"log","domain":[0.001,0.0095],"nice":false},"axis":{"orient":"left","values":[0.001,0.0012,0.0014,0.0016,0.0018,0.002,0.0022,0.0024,0.0026,0.0028,0.003,0.0032,0.0034,0.0036,0.0038,0.004,0.0042,0.0044,0.0046,0.0048,0.005,0.0052,0.0054,0.0056,0.0058,0.006,0.0062,0.0064,0.0066,0.0068,0.007,0.0072,0.0074,0.0076,0.0078,0.008,0.0082,0.0084,0.0086,0.0088,0.009,0.0092,0.0094],"labelExpr":"abs(datum.value*1000 - round(datum.value*1000)) > 0.01 ? '' : round(datum.value*1000) == 1 ? '1E-3' : round(datum.value*1000) == 10 ? '0.01' : round(datum.value*1000) % 2 == 0 ? format(datum.value, '.3f') : ''","tickSize":{"condition":{"test":"abs(datum.value*1000 - round(datum.value*1000)) < 0.01 && (round(datum.value*1000) % 2 == 0 || round(datum.value*1000) == 1)","value":6},"value":3},"labelPadding":4,"title":"St","titleAngle":0,"titleAlign":"left","titleBaseline":"alphabetic","titleX":-58,"titleY":-0.7,"titleFontSize":17}},
    "color":{"field":"model","type":"nominal","title":null,"scale":{"domain":["Measurements","LLRM","QLRM","SCLRM","SSTLRM"],"range":["black","black","#9a9a9a","black","black"]},"legend":{"labelExpr":"datum.label == 'SSTLRM' ? datum.label : datum.label + ';'"}},
    "strokeDash":{"field":"model","type":"nominal","title":null,"scale":{"domain":["Measurements","LLRM","QLRM","SCLRM","SSTLRM"],"range":[[1,0],[1,0],[1,2],[7,3,1.5,3],[6,4]]},"legend":{"labelExpr":"datum.label == 'SSTLRM' ? datum.label : datum.label + ';'"}}
   }},
  {"transform":[{"filter":"datum.kind == 'corr'"}],
   "mark":{"type":"line","color":"black","strokeWidth":1.2,"clip":true},
   "encoding":{"x":{"field":"Re","type":"quantitative","scale":{"domain":[5356,6000],"nice":false,"zero":false},"axis":null},"y":{"field":"St","type":"quantitative","scale":{"type":"log","domain":[0.001,0.0095],"nice":false},"axis":null},"detail":{"field":"curve"}}},
  {"transform":[{"filter":"datum.kind == 'meas'"}],
   "mark":{"type":"point","filled":false,"size":2800,"strokeWidth":1},
   "encoding":{"x":{"field":"Re","type":"quantitative","scale":{"domain":[5356,6000],"nice":false,"zero":false},"axis":null},"y":{"field":"St","type":"quantitative","scale":{"type":"log","domain":[0.001,0.0095],"nice":false},"axis":null},
    "color":{"field":"model","type":"nominal","title":null,"scale":{"domain":["Measurements","LLRM","QLRM","SCLRM","SSTLRM"],"range":["black","black","#9a9a9a","black","black"]},"legend":{"labelExpr":"datum.label == 'SSTLRM' ? datum.label : datum.label + ';'"}},
    "shape":{"field":"model","type":"nominal","title":null,"scale":{"domain":["Measurements","LLRM","QLRM","SCLRM","SSTLRM"],"range":["M-0.17,0A0.17,0.17,0,1,1,0.17,0A0.17,0.17,0,1,1,-0.17,0Z","stroke","stroke","stroke","stroke"]},"legend":{"labelExpr":"datum.label == 'SSTLRM' ? datum.label : datum.label + ';'"}}}},
  {"transform":[{"filter":"datum.kind == 'run'"}],
   "mark":{"type":"text","align":"left","baseline":"middle","fontSize":18,"fontWeight":"bold"},
   "encoding":{"x":{"field":"Re","type":"quantitative","scale":{"domain":[5356,6000],"nice":false,"zero":false},"axis":null},"y":{"field":"St","type":"quantitative","scale":{"type":"log","domain":[0.001,0.0095],"nice":false},"axis":null},"text":{"field":"text"}}},
  {"transform":[{"filter":"datum.kind == 'label'"}],
   "mark":{"type":"text","align":"left","baseline":"middle","fontSize":19},
   "encoding":{"x":{"field":"Re","type":"quantitative","scale":{"domain":[5356,6000],"nice":false,"zero":false},"axis":null},"y":{"field":"St","type":"quantitative","scale":{"type":"log","domain":[0.001,0.0095],"nice":false},"axis":null},"text":{"field":"text"}}},
  {"transform":[{"filter":"datum.kind == 'meas'"}],
   "mark":{"type":"point","opacity":0},
   "encoding":{
    "x":{"field":"Re","type":"quantitative","scale":{"domain":[5356,6000],"nice":false,"zero":false},"axis":{"orient":"top","values":[5375,5500,5625,5750,5875],"labels":false,"tickSize":-5,"title":null}},
    "y":{"field":"St","type":"quantitative","scale":{"type":"log","domain":[0.001,0.0095],"nice":false},"axis":{"orient":"right","values":[0.0012,0.0014,0.0016,0.0018,0.002,0.0022,0.0024,0.0026,0.0028,0.003,0.0032,0.0034,0.0036,0.0038,0.004,0.0042,0.0044,0.0046,0.0048,0.005,0.0052,0.0054,0.0056,0.0058,0.006,0.0062,0.0064,0.0066,0.0068,0.007,0.0072,0.0074,0.0076,0.0078,0.008,0.0082,0.0084,0.0086,0.0088,0.009,0.0092,0.0094],"labels":false,"tickSize":{"condition":{"test":"abs(datum.value*1000 - round(datum.value*1000)) < 0.01 && (round(datum.value*1000) % 2 == 0 || round(datum.value*1000) == 1)","value":-6},"value":-3},"title":"b","titleAngle":0,"titleAlign":"left","titleBaseline":"alphabetic","titleX":-337.5,"titleY":7,"titleFontSize":10}}}}
 ],
 "resolve":{"axis":{"x":"independent","y":"independent"}}
},
{
 "width": 301, "height": 201,
 "data": {"name": "R1"},
 "layer": [
  {"transform":[{"filter":"datum.kind == 'curve'"}],
   "mark":{"type":"line","strokeWidth":1.4,"clip":true},
   "encoding":{
    "x":{"field":"z","type":"quantitative","scale":{"domain":[-5,26],"nice":false,"zero":false},"axis":{"orient":"bottom","values":[0,5,10,15,20,25],"labels":false,"tickSize":{"condition":{"test":"datum.value % 10 == 0","value":5},"value":3},"title":null}},
    "y":{"field":"T","type":"quantitative","scale":{"domain":[0,250],"nice":false,"zero":false},"axis":{"orient":"left","values":[0,25,50,75,100,125,150,175,200,225,250],"labelExpr":"datum.value % 50 == 0 && datum.value < 250 ? format(datum.value,'d') : ''","tickSize":{"condition":{"test":"datum.value % 50 == 0","value":6},"value":-4},"labelPadding":5,"title":"Tw, ˚C","titleAngle":0,"titleAlign":"left","titleBaseline":"alphabetic","titleX":-66,"titleY":4.5,"titleFontSize":19}},
    "detail":{"field":"curve"},
    "color":{"field":"model","type":"nominal","title":null,"scale":{"domain":["Measurements","LLRM","QLRM","SCLRM","SSTLRM"],"range":["black","black","#9a9a9a","black","black"]},"legend":{"labelExpr":"datum.label == 'SSTLRM' ? datum.label : datum.label + ';'"}},
    "strokeDash":{"field":"model","type":"nominal","title":null,"scale":{"domain":["Measurements","LLRM","QLRM","SCLRM","SSTLRM"],"range":[[1,0],[1,0],[1,2],[7,3,1.5,3],[6,4]]},"legend":{"labelExpr":"datum.label == 'SSTLRM' ? datum.label : datum.label + ';'"}}
   }},
  {"transform":[{"filter":"datum.kind == 'meas'"}],
   "mark":{"type":"point","filled":false,"size":2800,"strokeWidth":1},
   "encoding":{"x":{"field":"z","type":"quantitative","scale":{"domain":[-5,26],"nice":false,"zero":false},"axis":null},"y":{"field":"T","type":"quantitative","scale":{"domain":[0,250],"nice":false,"zero":false},"axis":null},
    "color":{"field":"model","type":"nominal","title":null,"scale":{"domain":["Measurements","LLRM","QLRM","SCLRM","SSTLRM"],"range":["black","black","#9a9a9a","black","black"]},"legend":{"labelExpr":"datum.label == 'SSTLRM' ? datum.label : datum.label + ';'"}},
    "shape":{"field":"model","type":"nominal","title":null,"scale":{"domain":["Measurements","LLRM","QLRM","SCLRM","SSTLRM"],"range":["M-0.17,0A0.17,0.17,0,1,1,0.17,0A0.17,0.17,0,1,1,-0.17,0Z","stroke","stroke","stroke","stroke"]},"legend":{"labelExpr":"datum.label == 'SSTLRM' ? datum.label : datum.label + ';'"}}}},
  {"transform":[{"filter":"datum.kind == 'run'"}],
   "mark":{"type":"text","align":"left","baseline":"middle","fontSize":18,"fontWeight":"bold"},
   "encoding":{"x":{"field":"z","type":"quantitative","scale":{"domain":[-5,26],"nice":false,"zero":false},"axis":null},"y":{"field":"T","type":"quantitative","scale":{"domain":[0,250],"nice":false,"zero":false},"axis":null},"text":{"field":"text"}}},
  {"transform":[{"filter":"datum.kind == 'label'"}],
   "mark":{"type":"text","align":"center","baseline":"middle","fontSize":13},
   "encoding":{"x":{"field":"z","type":"quantitative","scale":{"domain":[-5,26],"nice":false,"zero":false},"axis":null},"y":{"field":"T","type":"quantitative","scale":{"domain":[0,250],"nice":false,"zero":false},"axis":null},"text":{"field":"text"}}},
  {"transform":[{"filter":"datum.kind == 'meas'"}],
   "mark":{"type":"point","opacity":0},
   "encoding":{
    "x":{"field":"z","type":"quantitative","scale":{"domain":[-5,26],"nice":false,"zero":false},"axis":{"orient":"top","values":[0,5,10,15,20,25],"labels":false,"tickSize":-5,"title":null}},
    "y":{"field":"T","type":"quantitative","scale":{"domain":[0,250],"nice":false,"zero":false},"axis":{"orient":"right","values":[25,50,75,100,125,150,175,200,225],"labels":false,"tickSize":{"condition":{"test":"datum.value % 50 == 0","value":-6},"value":-4},"title":null}}}}
 ],
 "resolve":{"axis":{"x":"independent","y":"independent"}}
},
{
 "width": 299, "height": 200,
 "data": {"name": "L2"},
 "layer": [
  {"transform":[{"filter":"datum.kind == 'curve'"}],
   "mark":{"type":"line","strokeWidth":1.4,"clip":true},
   "encoding":{
    "x":{"field":"Re","type":"quantitative","scale":{"domain":[5000,6000],"nice":false,"zero":false},"axis":{"orient":"bottom","values":[5000,5125,5250,5375,5500,5625,5750,5875,6000],"labelExpr":"datum.value % 250 == 0 ? format(datum.value,'d') : ''","tickSize":{"condition":{"test":"datum.value % 250 == 0","value":6},"value":4},"labelPadding":3,"title":null}},
    "y":{"field":"St","type":"quantitative","scale":{"type":"log","domain":[0.001,0.01],"nice":false},"axis":{"orient":"left","values":[0.001,0.0012,0.0014,0.0016,0.0018,0.002,0.0022,0.0024,0.0026,0.0028,0.003,0.0032,0.0034,0.0036,0.0038,0.004,0.0042,0.0044,0.0046,0.0048,0.005,0.0052,0.0054,0.0056,0.0058,0.006,0.0062,0.0064,0.0066,0.0068,0.007,0.0072,0.0074,0.0076,0.0078,0.008,0.0082,0.0084,0.0086,0.0088,0.009,0.0092,0.0094,0.0096,0.0098,0.01],"labelExpr":"abs(datum.value*1000 - round(datum.value*1000)) > 0.01 ? '' : round(datum.value*1000) == 1 ? '1E-3' : round(datum.value*1000) == 10 ? '0.01' : round(datum.value*1000) % 2 == 0 ? format(datum.value, '.3f') : ''","tickSize":{"condition":{"test":"abs(datum.value*1000 - round(datum.value*1000)) < 0.01 && (round(datum.value*1000) % 2 == 0 || round(datum.value*1000) == 1)","value":6},"value":3},"labelPadding":4,"title":null}},
    "color":{"field":"model","type":"nominal","title":null,"scale":{"domain":["Measurements","LLRM","QLRM","SCLRM","SSTLRM"],"range":["black","black","#9a9a9a","black","black"]},"legend":{"labelExpr":"datum.label == 'SSTLRM' ? datum.label : datum.label + ';'"}},
    "strokeDash":{"field":"model","type":"nominal","title":null,"scale":{"domain":["Measurements","LLRM","QLRM","SCLRM","SSTLRM"],"range":[[1,0],[1,0],[1,2],[7,3,1.5,3],[6,4]]},"legend":{"labelExpr":"datum.label == 'SSTLRM' ? datum.label : datum.label + ';'"}}
   }},
  {"transform":[{"filter":"datum.kind == 'corr'"}],
   "mark":{"type":"line","color":"black","strokeWidth":1.2,"clip":true},
   "encoding":{"x":{"field":"Re","type":"quantitative","scale":{"domain":[5000,6000],"nice":false,"zero":false},"axis":null},"y":{"field":"St","type":"quantitative","scale":{"type":"log","domain":[0.001,0.01],"nice":false},"axis":null},"detail":{"field":"curve"}}},
  {"transform":[{"filter":"datum.kind == 'meas'"}],
   "mark":{"type":"point","filled":false,"size":2800,"strokeWidth":1},
   "encoding":{"x":{"field":"Re","type":"quantitative","scale":{"domain":[5000,6000],"nice":false,"zero":false},"axis":null},"y":{"field":"St","type":"quantitative","scale":{"type":"log","domain":[0.001,0.01],"nice":false},"axis":null},
    "color":{"field":"model","type":"nominal","title":null,"scale":{"domain":["Measurements","LLRM","QLRM","SCLRM","SSTLRM"],"range":["black","black","#9a9a9a","black","black"]},"legend":{"labelExpr":"datum.label == 'SSTLRM' ? datum.label : datum.label + ';'"}},
    "shape":{"field":"model","type":"nominal","title":null,"scale":{"domain":["Measurements","LLRM","QLRM","SCLRM","SSTLRM"],"range":["M-0.17,0A0.17,0.17,0,1,1,0.17,0A0.17,0.17,0,1,1,-0.17,0Z","stroke","stroke","stroke","stroke"]},"legend":{"labelExpr":"datum.label == 'SSTLRM' ? datum.label : datum.label + ';'"}}}},
  {"transform":[{"filter":"datum.kind == 'run'"}],
   "mark":{"type":"text","align":"left","baseline":"middle","fontSize":18,"fontWeight":"bold"},
   "encoding":{"x":{"field":"Re","type":"quantitative","scale":{"domain":[5000,6000],"nice":false,"zero":false},"axis":null},"y":{"field":"St","type":"quantitative","scale":{"type":"log","domain":[0.001,0.01],"nice":false},"axis":null},"text":{"field":"text"}}},
  {"transform":[{"filter":"datum.kind == 'label'"}],
   "mark":{"type":"text","align":"left","baseline":"middle","fontSize":19},
   "encoding":{"x":{"field":"Re","type":"quantitative","scale":{"domain":[5000,6000],"nice":false,"zero":false},"axis":null},"y":{"field":"St","type":"quantitative","scale":{"type":"log","domain":[0.001,0.01],"nice":false},"axis":null},"text":{"field":"text"}}},
  {"transform":[{"filter":"datum.kind == 'meas'"}],
   "mark":{"type":"point","opacity":0},
   "encoding":{
    "x":{"field":"Re","type":"quantitative","scale":{"domain":[5000,6000],"nice":false,"zero":false},"axis":{"orient":"top","values":[5125,5250,5375,5500,5625,5750,5875],"labels":false,"tickSize":{"condition":{"test":"datum.value % 250 == 0","value":-6},"value":-4},"title":null}},
    "y":{"field":"St","type":"quantitative","scale":{"type":"log","domain":[0.001,0.01],"nice":false},"axis":{"orient":"right","values":[0.0012,0.0014,0.0016,0.0018,0.002,0.0022,0.0024,0.0026,0.0028,0.003,0.0032,0.0034,0.0036,0.0038,0.004,0.0042,0.0044,0.0046,0.0048,0.005,0.0052,0.0054,0.0056,0.0058,0.006,0.0062,0.0064,0.0066,0.0068,0.007,0.0072,0.0074,0.0076,0.0078,0.008,0.0082,0.0084,0.0086,0.0088,0.009,0.0092,0.0094,0.0096,0.0098],"labels":false,"tickSize":{"condition":{"test":"abs(datum.value*1000 - round(datum.value*1000)) < 0.01 && (round(datum.value*1000) % 2 == 0 || round(datum.value*1000) == 1)","value":-6},"value":-3},"title":null}}}}
 ],
 "resolve":{"axis":{"x":"independent","y":"independent"}}
},
{
 "width": 301, "height": 200,
 "data": {"name": "R2"},
 "layer": [
  {"transform":[{"filter":"datum.kind == 'curve'"}],
   "mark":{"type":"line","strokeWidth":1.4,"clip":true},
   "encoding":{
    "x":{"field":"z","type":"quantitative","scale":{"domain":[-5,26],"nice":false,"zero":false},"axis":{"orient":"bottom","values":[0,5,10,15,20,25],"labels":false,"tickSize":{"condition":{"test":"datum.value % 10 == 0","value":5},"value":3},"title":null}},
    "y":{"field":"T","type":"quantitative","scale":{"domain":[0,600],"nice":false,"zero":false},"axis":{"orient":"left","values":[0,50,100,150,200,250,300,350,400,450,500,550,600],"labelExpr":"datum.value % 100 == 0 ? format(datum.value,'d') : ''","tickSize":{"condition":{"test":"datum.value % 100 == 0","value":6},"value":-4},"labelPadding":5,"title":null}},
    "detail":{"field":"curve"},
    "color":{"field":"model","type":"nominal","title":null,"scale":{"domain":["Measurements","LLRM","QLRM","SCLRM","SSTLRM"],"range":["black","black","#9a9a9a","black","black"]},"legend":{"labelExpr":"datum.label == 'SSTLRM' ? datum.label : datum.label + ';'"}},
    "strokeDash":{"field":"model","type":"nominal","title":null,"scale":{"domain":["Measurements","LLRM","QLRM","SCLRM","SSTLRM"],"range":[[1,0],[1,0],[1,2],[7,3,1.5,3],[6,4]]},"legend":{"labelExpr":"datum.label == 'SSTLRM' ? datum.label : datum.label + ';'"}}
   }},
  {"transform":[{"filter":"datum.kind == 'meas'"}],
   "mark":{"type":"point","filled":false,"size":2800,"strokeWidth":1},
   "encoding":{"x":{"field":"z","type":"quantitative","scale":{"domain":[-5,26],"nice":false,"zero":false},"axis":null},"y":{"field":"T","type":"quantitative","scale":{"domain":[0,600],"nice":false,"zero":false},"axis":null},
    "color":{"field":"model","type":"nominal","title":null,"scale":{"domain":["Measurements","LLRM","QLRM","SCLRM","SSTLRM"],"range":["black","black","#9a9a9a","black","black"]},"legend":{"labelExpr":"datum.label == 'SSTLRM' ? datum.label : datum.label + ';'"}},
    "shape":{"field":"model","type":"nominal","title":null,"scale":{"domain":["Measurements","LLRM","QLRM","SCLRM","SSTLRM"],"range":["M-0.17,0A0.17,0.17,0,1,1,0.17,0A0.17,0.17,0,1,1,-0.17,0Z","stroke","stroke","stroke","stroke"]},"legend":{"labelExpr":"datum.label == 'SSTLRM' ? datum.label : datum.label + ';'"}}}},
  {"transform":[{"filter":"datum.kind == 'run'"}],
   "mark":{"type":"text","align":"left","baseline":"middle","fontSize":18,"fontWeight":"bold"},
   "encoding":{"x":{"field":"z","type":"quantitative","scale":{"domain":[-5,26],"nice":false,"zero":false},"axis":null},"y":{"field":"T","type":"quantitative","scale":{"domain":[0,600],"nice":false,"zero":false},"axis":null},"text":{"field":"text"}}},
  {"transform":[{"filter":"datum.kind == 'label'"}],
   "mark":{"type":"text","align":"center","baseline":"middle","fontSize":15},
   "encoding":{"x":{"field":"z","type":"quantitative","scale":{"domain":[-5,26],"nice":false,"zero":false},"axis":null},"y":{"field":"T","type":"quantitative","scale":{"domain":[0,600],"nice":false,"zero":false},"axis":null},"text":{"field":"text"}}},
  {"transform":[{"filter":"datum.kind == 'meas'"}],
   "mark":{"type":"point","opacity":0},
   "encoding":{
    "x":{"field":"z","type":"quantitative","scale":{"domain":[-5,26],"nice":false,"zero":false},"axis":{"orient":"top","values":[0,5,10,15,20,25],"labels":false,"tickSize":-5,"title":null}},
    "y":{"field":"T","type":"quantitative","scale":{"domain":[0,600],"nice":false,"zero":false},"axis":{"orient":"right","values":[50,100,150,200,250,300,350,400,450,500,550],"labels":false,"tickSize":{"condition":{"test":"datum.value % 100 == 0","value":-6},"value":-4},"title":null}}}}
 ],
 "resolve":{"axis":{"x":"independent","y":"independent"}}
},
{
 "width": 299, "height": 197,
 "data": {"name": "L3"},
 "layer": [
  {"transform":[{"filter":"datum.kind == 'curve'"}],
   "mark":{"type":"line","strokeWidth":1.4,"clip":true},
   "encoding":{
    "x":{"field":"Re","type":"quantitative","scale":{"domain":[3287,4147],"nice":false,"zero":false},"axis":{"orient":"bottom","values":[3500,3750,4000],"labelExpr":"datum.value % 500 == 0 ? format(datum.value,'d') : ''","tickSize":6,"labelPadding":4,"title":"Re","titleAngle":0,"titleAlign":"left","titleBaseline":"alphabetic","titleX":130,"titleY":50,"titleFontSize":19}},
    "y":{"field":"St","type":"quantitative","scale":{"type":"log","domain":[0.001,0.0088],"nice":false},"axis":{"orient":"left","values":[0.0011,0.0015,0.002,0.0022,0.0024,0.0026,0.0028,0.003,0.0032,0.0034,0.0036,0.0038,0.004,0.0042,0.0044,0.0046,0.0048,0.005,0.0052,0.0054,0.0056,0.0058,0.006,0.0062,0.0064,0.0066,0.0068,0.007,0.0072,0.0074,0.0076,0.0078,0.008,0.0082,0.0084,0.0086,0.0088],"labelExpr":"abs(datum.value*1000 - round(datum.value*1000)) > 0.01 ? '' : round(datum.value*1000) == 1 ? '1E-3' : round(datum.value*1000) == 10 ? '0.01' : round(datum.value*1000) % 2 == 0 ? format(datum.value, '.3f') : ''","tickSize":{"condition":{"test":"abs(datum.value*1000 - round(datum.value*1000)) < 0.01 && (round(datum.value*1000) % 2 == 0 || round(datum.value*1000) == 1)","value":6},"value":3},"labelPadding":4,"title":"(a)","titleAngle":0,"titleAlign":"left","titleBaseline":"alphabetic","titleX":-64,"titleY":248,"titleFontSize":20,"titleFontWeight":"bold"}},
    "color":{"field":"model","type":"nominal","title":null,"scale":{"domain":["Measurements","LLRM","QLRM","SCLRM","SSTLRM"],"range":["black","black","#9a9a9a","black","black"]},"legend":{"labelExpr":"datum.label == 'SSTLRM' ? datum.label : datum.label + ';'"}},
    "strokeDash":{"field":"model","type":"nominal","title":null,"scale":{"domain":["Measurements","LLRM","QLRM","SCLRM","SSTLRM"],"range":[[1,0],[1,0],[1,2],[7,3,1.5,3],[6,4]]},"legend":{"labelExpr":"datum.label == 'SSTLRM' ? datum.label : datum.label + ';'"}}
   }},
  {"transform":[{"filter":"datum.kind == 'corr'"}],
   "mark":{"type":"line","color":"black","strokeWidth":1.2,"clip":true},
   "encoding":{"x":{"field":"Re","type":"quantitative","scale":{"domain":[3287,4147],"nice":false,"zero":false},"axis":null},"y":{"field":"St","type":"quantitative","scale":{"type":"log","domain":[0.001,0.0088],"nice":false},"axis":null},"detail":{"field":"curve"}}},
  {"transform":[{"filter":"datum.kind == 'meas'"}],
   "mark":{"type":"point","filled":false,"size":2800,"strokeWidth":1},
   "encoding":{"x":{"field":"Re","type":"quantitative","scale":{"domain":[3287,4147],"nice":false,"zero":false},"axis":null},"y":{"field":"St","type":"quantitative","scale":{"type":"log","domain":[0.001,0.0088],"nice":false},"axis":null},
    "color":{"field":"model","type":"nominal","title":null,"scale":{"domain":["Measurements","LLRM","QLRM","SCLRM","SSTLRM"],"range":["black","black","#9a9a9a","black","black"]},"legend":{"labelExpr":"datum.label == 'SSTLRM' ? datum.label : datum.label + ';'"}},
    "shape":{"field":"model","type":"nominal","title":null,"scale":{"domain":["Measurements","LLRM","QLRM","SCLRM","SSTLRM"],"range":["M-0.17,0A0.17,0.17,0,1,1,0.17,0A0.17,0.17,0,1,1,-0.17,0Z","stroke","stroke","stroke","stroke"]},"legend":{"labelExpr":"datum.label == 'SSTLRM' ? datum.label : datum.label + ';'"}}}},
  {"transform":[{"filter":"datum.kind == 'run'"}],
   "mark":{"type":"text","align":"left","baseline":"middle","fontSize":18,"fontWeight":"bold"},
   "encoding":{"x":{"field":"Re","type":"quantitative","scale":{"domain":[3287,4147],"nice":false,"zero":false},"axis":null},"y":{"field":"St","type":"quantitative","scale":{"type":"log","domain":[0.001,0.0088],"nice":false},"axis":null},"text":{"field":"text"}}},
  {"transform":[{"filter":"datum.kind == 'label'"}],
   "mark":{"type":"text","align":"left","baseline":"middle","fontSize":19},
   "encoding":{"x":{"field":"Re","type":"quantitative","scale":{"domain":[3287,4147],"nice":false,"zero":false},"axis":null},"y":{"field":"St","type":"quantitative","scale":{"type":"log","domain":[0.001,0.0088],"nice":false},"axis":null},"text":{"field":"text"}}},
  {"transform":[{"filter":"datum.kind == 'meas'"}],
   "mark":{"type":"point","opacity":0},
   "encoding":{
    "x":{"field":"Re","type":"quantitative","scale":{"domain":[3287,4147],"nice":false,"zero":false},"axis":{"orient":"top","values":[3500,3750,4000],"labels":false,"tickSize":-5,"title":null}},
    "y":{"field":"St","type":"quantitative","scale":{"type":"log","domain":[0.001,0.0088],"nice":false},"axis":{"orient":"right","values":[0.0011,0.0015,0.002,0.0022,0.0024,0.0026,0.0028,0.003,0.0032,0.0034,0.0036,0.0038,0.004,0.0042,0.0044,0.0046,0.0048,0.005,0.0052,0.0054,0.0056,0.0058,0.006,0.0062,0.0064,0.0066,0.0068,0.007,0.0072,0.0074,0.0076,0.0078,0.008,0.0082,0.0084,0.0086],"labels":false,"tickSize":{"condition":{"test":"abs(datum.value*1000 - round(datum.value*1000)) < 0.01 && (round(datum.value*1000) % 2 == 0 || round(datum.value*1000) == 1)","value":-6},"value":-3},"title":"b","titleAngle":0,"titleAlign":"left","titleBaseline":"alphabetic","titleX":-141,"titleY":253.5,"titleFontSize":11}}}}
 ],
 "resolve":{"axis":{"x":"independent","y":"independent"}}
},
{
 "width": 301, "height": 202,
 "data": {"name": "R3"},
 "layer": [
  {"transform":[{"filter":"datum.kind == 'curve'"}],
   "mark":{"type":"line","strokeWidth":1.4,"clip":true},
   "encoding":{
    "x":{"field":"z","type":"quantitative","scale":{"domain":[-4,26.1],"nice":false,"zero":false},"axis":{"orient":"bottom","values":[0,5,10,15,20,25],"labelExpr":"datum.value % 10 == 0 ? format(datum.value,'d') : ''","tickSize":{"condition":{"test":"datum.value % 10 == 0","value":5},"value":3},"labelPadding":4,"title":"z/D","titleAngle":0,"titleAlign":"left","titleBaseline":"alphabetic","titleX":158,"titleY":51,"titleFontSize":19}},
    "y":{"field":"T","type":"quantitative","scale":{"domain":[0,600],"nice":false,"zero":false},"axis":{"orient":"left","values":[0,50,100,150,200,250,300,350,400,450,500,550,600],"labelExpr":"datum.value % 100 == 0 ? format(datum.value,'d') : ''","tickSize":{"condition":{"test":"datum.value % 100 == 0","value":6},"value":-4},"labelPadding":5,"title":"(b)","titleAngle":0,"titleAlign":"left","titleBaseline":"alphabetic","titleX":-41,"titleY":249,"titleFontSize":20,"titleFontWeight":"bold"}},
    "detail":{"field":"curve"},
    "color":{"field":"model","type":"nominal","title":null,"scale":{"domain":["Measurements","LLRM","QLRM","SCLRM","SSTLRM"],"range":["black","black","#9a9a9a","black","black"]},"legend":{"labelExpr":"datum.label == 'SSTLRM' ? datum.label : datum.label + ';'"}},
    "strokeDash":{"field":"model","type":"nominal","title":null,"scale":{"domain":["Measurements","LLRM","QLRM","SCLRM","SSTLRM"],"range":[[1,0],[1,0],[1,2],[7,3,1.5,3],[6,4]]},"legend":{"labelExpr":"datum.label == 'SSTLRM' ? datum.label : datum.label + ';'"}}
   }},
  {"transform":[{"filter":"datum.kind == 'meas'"}],
   "mark":{"type":"point","filled":false,"size":2800,"strokeWidth":1},
   "encoding":{"x":{"field":"z","type":"quantitative","scale":{"domain":[-4,26.1],"nice":false,"zero":false},"axis":null},"y":{"field":"T","type":"quantitative","scale":{"domain":[0,600],"nice":false,"zero":false},"axis":null},
    "color":{"field":"model","type":"nominal","title":null,"scale":{"domain":["Measurements","LLRM","QLRM","SCLRM","SSTLRM"],"range":["black","black","#9a9a9a","black","black"]},"legend":{"labelExpr":"datum.label == 'SSTLRM' ? datum.label : datum.label + ';'"}},
    "shape":{"field":"model","type":"nominal","title":null,"scale":{"domain":["Measurements","LLRM","QLRM","SCLRM","SSTLRM"],"range":["M-0.17,0A0.17,0.17,0,1,1,0.17,0A0.17,0.17,0,1,1,-0.17,0Z","stroke","stroke","stroke","stroke"]},"legend":{"labelExpr":"datum.label == 'SSTLRM' ? datum.label : datum.label + ';'"}}}},
  {"transform":[{"filter":"datum.kind == 'run'"}],
   "mark":{"type":"text","align":"left","baseline":"middle","fontSize":18,"fontWeight":"bold"},
   "encoding":{"x":{"field":"z","type":"quantitative","scale":{"domain":[-4,26.1],"nice":false,"zero":false},"axis":null},"y":{"field":"T","type":"quantitative","scale":{"domain":[0,600],"nice":false,"zero":false},"axis":null},"text":{"field":"text"}}},
  {"transform":[{"filter":"datum.kind == 'label'"}],
   "mark":{"type":"text","align":"center","baseline":"middle","fontSize":15},
   "encoding":{"x":{"field":"z","type":"quantitative","scale":{"domain":[-4,26.1],"nice":false,"zero":false},"axis":null},"y":{"field":"T","type":"quantitative","scale":{"domain":[0,600],"nice":false,"zero":false},"axis":null},"text":{"field":"text"}}},
  {"transform":[{"filter":"datum.kind == 'meas'"}],
   "mark":{"type":"point","opacity":0},
   "encoding":{
    "x":{"field":"z","type":"quantitative","scale":{"domain":[-4,26.1],"nice":false,"zero":false},"axis":{"orient":"top","values":[0,5,10,15,20,25],"labels":false,"tickSize":-5,"title":null}},
    "y":{"field":"T","type":"quantitative","scale":{"domain":[0,600],"nice":false,"zero":false},"axis":{"orient":"right","values":[50,100,150,200,250,300,350,400,450,500,550],"labels":false,"tickSize":{"condition":{"test":"datum.value % 100 == 0","value":-6},"value":-4},"title":null}}}}
 ],
 "resolve":{"axis":{"x":"independent","y":"independent"}}
}
]
}
